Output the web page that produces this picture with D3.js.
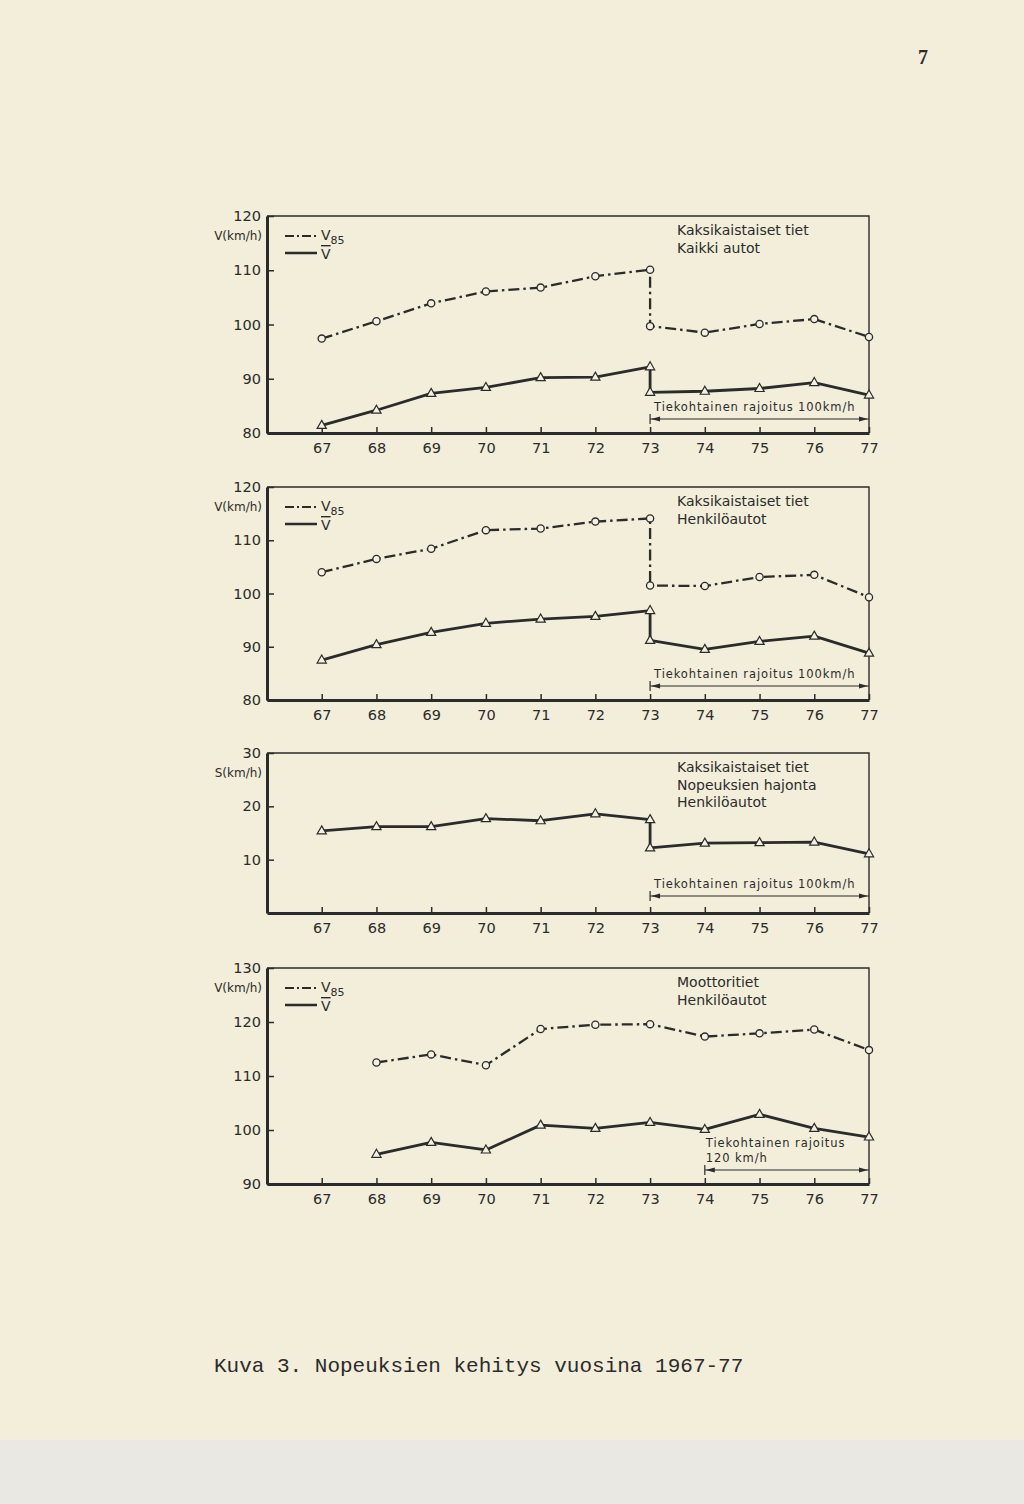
<!DOCTYPE html>
<html>
<head>
<meta charset="utf-8">
<script src="https://cdn.jsdelivr.net/npm/d3@7"></script>
<style>
  body { margin: 0; background: #f2eed9; }
  svg { display: block; }
  text { fill: #2b2b2b; }
</style>
</head>
<body>
<div id="chart"></div>
<script>
// years, 73 twice because of the step when the limit came in
var yearsStep = [67, 68, 69, 70, 71, 72, 73, 73, 74, 75, 76, 77]
var yearsMw = [68, 69, 70, 71, 72, 73, 74, 75, 76, 77]
var xTicks = [67, 68, 69, 70, 71, 72, 73, 74, 75, 76, 77]

// Kaksikaistaiset tiet, kaikki autot
var v85All = [97.4, 100.6, 103.9, 106.1, 106.8, 108.9, 110.1, 99.7, 98.5, 100.1, 101.0, 97.7]
var vMeanAll = [81.4, 84.2, 87.3, 88.4, 90.2, 90.3, 92.2, 87.5, 87.7, 88.2, 89.3, 87.0]
// Kaksikaistaiset tiet, henkilöautot
var v85Car = [104.0, 106.5, 108.4, 111.9, 112.2, 113.5, 114.1, 101.5, 101.4, 103.1, 103.5, 99.3]
var vMeanCar = [87.5, 90.4, 92.7, 94.4, 95.2, 95.7, 96.8, 91.2, 89.5, 91.0, 92.0, 88.8]
// nopeuksien hajonta
var sCar = [15.4, 16.2, 16.2, 17.7, 17.3, 18.6, 17.5, 12.2, 13.1, 13.2, 13.3, 11.1]
// moottoritiet, henkilöautot
var v85Mw = [112.5, 114.0, 112.0, 118.7, 119.5, 119.6, 117.3, 117.9, 118.6, 114.8]
var vMeanMw = [95.5, 97.7, 96.3, 100.9, 100.3, 101.4, 100.1, 102.9, 100.3, 98.7]

var ticks1 = [80, 90, 100, 110, 120]
var ticks3 = [10, 20, 30]
var ticks4 = [90, 100, 110, 120, 130]

var W = 1024, H = 1504
var ink = "#2b2b2b"
var font = "DejaVu Sans, sans-serif"

var svg = d3.select("#chart").append("svg")
  .attr("width", W).attr("height", H)

// paper
svg.append("rect").attr("width", W).attr("height", H).attr("fill", "#f2eed9")
svg.append("rect").attr("y", 1440).attr("width", W).attr("height", 64).attr("fill", "#e9e8e2")

svg.append("text").attr("x", 918).attr("y", 64)
  .attr("font-family", "Liberation Serif, serif").attr("font-size", 20)
  .attr("font-weight", "bold").text("7")

var x = d3.scaleLinear().domain([66, 77]).range([267, 869])

var panels = [
  { top: 216, bottom: 433, domain: [80, 120], ticks: ticks1, unit: "V(km/h)",
    years: yearsStep, v85: v85All, vMean: vMeanAll, legend: true,
    notes: ["Kaksikaistaiset tiet", "Kaikki autot"], limitFrom: 73, limitY: 419, limitText: ["Tiekohtainen rajoitus 100km/h"] },
  { top: 487, bottom: 700, domain: [80, 120], ticks: ticks1, unit: "V(km/h)",
    years: yearsStep, v85: v85Car, vMean: vMeanCar, legend: true,
    notes: ["Kaksikaistaiset tiet", "Henkilöautot"], limitFrom: 73, limitY: 686, limitText: ["Tiekohtainen rajoitus 100km/h"] },
  { top: 753, bottom: 913, domain: [0, 30], ticks: ticks3, unit: "S(km/h)",
    years: yearsStep, v85: null, vMean: sCar, legend: false,
    notes: ["Kaksikaistaiset tiet", "Nopeuksien hajonta", "Henkilöautot"], limitFrom: 73, limitY: 896, limitText: ["Tiekohtainen rajoitus 100km/h"] },
  { top: 968, bottom: 1184, domain: [90, 130], ticks: ticks4, unit: "V(km/h)",
    years: yearsMw, v85: v85Mw, vMean: vMeanMw, legend: true,
    notes: ["Moottoritiet", "Henkilöautot"], limitFrom: 74, limitY: 1170, limitText: ["Tiekohtainen rajoitus", "120 km/h"] }
]

panels.forEach(drawPanel)

function drawPanel(p) {
  var y = d3.scaleLinear().domain(p.domain).range([p.bottom, p.top])
  var g = svg.append("g")

  // thin top and right frame
  g.append("path")
    .attr("d", "M" + x(66) + "," + p.top + "H" + x(77) + "V" + p.bottom)
    .attr("fill", "none").attr("stroke", ink).attr("stroke-width", 1.4)

  var yAxis = g.append("g").attr("transform", "translate(" + x(66) + ",0)")
    .call(d3.axisLeft(y).tickValues(p.ticks).tickSizeInner(-7).tickSizeOuter(0).tickPadding(6))
  yAxis.select(".domain").attr("stroke", ink).attr("stroke-width", 3)
  yAxis.selectAll(".tick line").attr("stroke", ink).attr("stroke-width", 1.5)
  yAxis.selectAll(".tick text").attr("font-family", font).attr("font-size", 14.5).attr("fill", ink)

  var xAxis = g.append("g").attr("transform", "translate(0," + p.bottom + ")")
    .call(d3.axisBottom(x).tickValues(xTicks).tickFormat(d3.format("d")).tickSizeInner(-6).tickSizeOuter(0).tickPadding(10))
  xAxis.select(".domain").attr("stroke", ink).attr("stroke-width", 3)
  xAxis.selectAll(".tick line").attr("stroke", ink).attr("stroke-width", 1.5)
  xAxis.selectAll(".tick text").attr("font-family", font).attr("font-size", 14.5).attr("fill", ink)

  g.append("text").attr("x", x(66) - 5).attr("y", p.top + 24)
    .attr("text-anchor", "end").attr("font-family", font).attr("font-size", 12)
    .text(p.unit)

  // legend
  if (p.legend) {
    var lx = 285, ly = p.top + 20
    g.append("line").attr("x1", lx).attr("x2", lx + 32).attr("y1", ly).attr("y2", ly)
      .attr("stroke", ink).attr("stroke-width", 2.2).attr("stroke-dasharray", "9,3,2,3")
    g.append("text").attr("x", lx + 36).attr("y", ly + 4)
      .attr("font-family", font).attr("font-size", 14)
      .text("V").append("tspan").attr("font-size", 11).attr("dy", 4).text("85")
    g.append("line").attr("x1", lx).attr("x2", lx + 32).attr("y1", ly + 17).attr("y2", ly + 17)
      .attr("stroke", ink).attr("stroke-width", 2.5)
    g.append("text").attr("x", lx + 36).attr("y", ly + 23)
      .attr("font-family", font).attr("font-size", 14)
      .attr("text-decoration", "overline").text("V")
  }

  // notes top right
  p.notes.forEach(function(t, i) {
    g.append("text").attr("x", 677).attr("y", p.top + 19 + i * 17.5)
      .attr("font-family", font).attr("font-size", 14).text(t)
  })

  // speed limit arrow
  var ax0 = x(p.limitFrom), ax1 = x(77)
  p.limitText.forEach(function(t, i, arr) {
    g.append("text")
      .attr("x", arr.length > 1 ? ax0 + 1 : ax0 + 4)
      .attr("y", p.limitY - 8 - (arr.length - 1 - i) * 15)
      .attr("font-family", font).attr("font-size", 11.5).attr("letter-spacing", 0.9)
      .text(t)
  })
  g.append("line").attr("x1", ax0).attr("x2", ax1).attr("y1", p.limitY).attr("y2", p.limitY)
    .attr("stroke", ink).attr("stroke-width", 1.2)
  g.append("line").attr("x1", ax0).attr("x2", ax0).attr("y1", p.limitY - 5).attr("y2", p.limitY + 5)
    .attr("stroke", ink).attr("stroke-width", 1.2)
  g.append("path").attr("d", "M" + (ax0 + 1) + "," + p.limitY + "l9,-2.5v5z").attr("fill", ink)
  g.append("path").attr("d", "M" + (ax1 - 1) + "," + p.limitY + "l-9,-2.5v5z").attr("fill", ink)

  var line = d3.line().x(function(d) { return x(d[0]) }).y(function(d) { return y(d[1]) })

  if (p.v85) {
    var pts = p.years.map(function(yr, i) { return [yr, p.v85[i]] })
    g.append("path").attr("d", line(pts)).attr("fill", "none")
      .attr("stroke", ink).attr("stroke-width", 2.3).attr("stroke-dasharray", "11,4,2.5,4")
    g.selectAll(".c").data(pts).enter().append("circle")
      .attr("cx", function(d) { return x(d[0]) }).attr("cy", function(d) { return y(d[1]) })
      .attr("r", 3.6).attr("fill", "#f4f1e0").attr("stroke", ink).attr("stroke-width", 1.3)
  }

  var mpts = p.years.map(function(yr, i) { return [yr, p.vMean[i]] })
  g.append("path").attr("d", line(mpts)).attr("fill", "none")
    .attr("stroke", ink).attr("stroke-width", 2.8).attr("stroke-linejoin", "round")
  g.selectAll(".t").data(mpts).enter().append("path")
    .attr("transform", function(d) { return "translate(" + x(d[0]) + "," + y(d[1]) + ")" })
    .attr("d", "M0,-5L4.6,3L-4.6,3Z")
    .attr("fill", "#f4f1e0").attr("stroke", ink).attr("stroke-width", 1.2)
}

svg.append("text").attr("x", 214).attr("y", 1372)
  .attr("font-family", "Liberation Mono, monospace").attr("font-size", 21)
  .attr("fill", "#4a4a4a").text("Kuva 3. Nopeuksien kehitys vuosina 1967-77")
</script>
</body>
</html>
